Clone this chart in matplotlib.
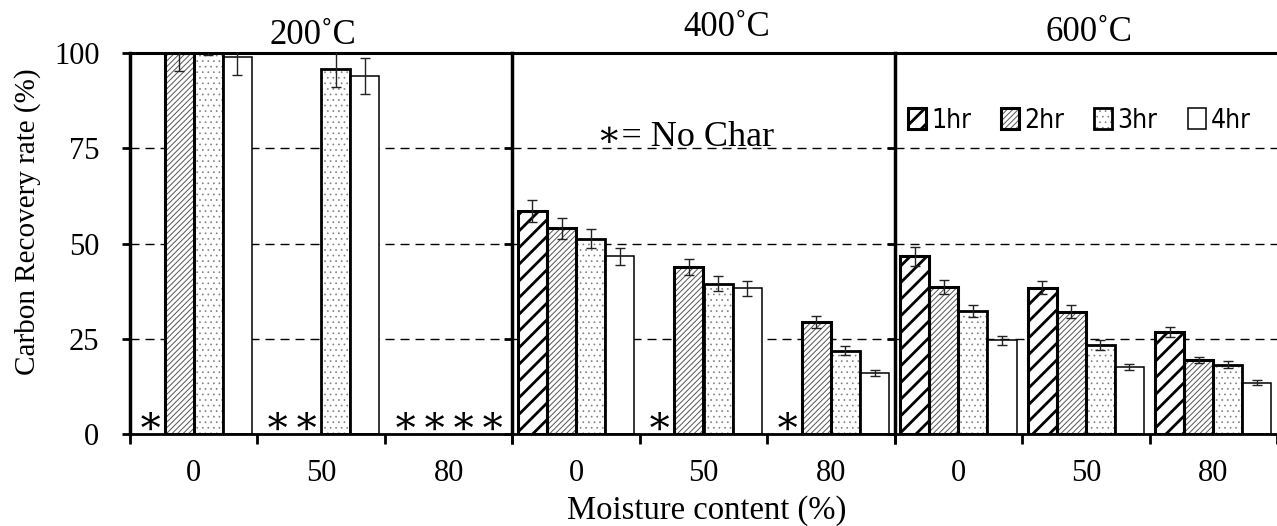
"""
Carbon recovery rate of char by moisture content, temperature and residence time.
Output: out.png
"""

import numpy as np
import matplotlib
matplotlib.use("Agg")
import matplotlib.pyplot as plt
from matplotlib.patches import Patch, Rectangle

nan = np.nan

TEMPS = ["200˚C", "400˚C", "600˚C"]
MOISTURE = ["0", "50", "80"]
DURATIONS = ["1hr", "2hr", "3hr", "4hr"]

# rows = moisture content, columns = 1hr..4hr; nan = no char
rate_200 = [[nan, 100.0, 100.0, 98.9],
            [nan, nan, 95.8, 94.0],
            [nan, nan, nan, nan]]
err_200 = [[0, 4.7, 0.5, 4.6],
           [0, 0, 4.6, 4.7],
           [0, 0, 0, 0]]

rate_400 = [[58.5, 54.0, 51.2, 46.6],
            [nan, 43.9, 39.5, 38.2],
            [nan, 29.4, 21.9, 16.0]]
err_400 = [[2.9, 2.7, 2.5, 2.2],
           [0, 2.1, 2.0, 1.9],
           [0, 1.6, 1.2, 0.8]]

rate_600 = [[46.6, 38.6, 32.2, 24.6],
            [38.4, 32.1, 23.3, 17.6],
            [26.8, 19.4, 18.2, 13.5]]
err_600 = [[2.4, 1.8, 1.6, 1.2],
           [1.7, 1.7, 1.3, 0.8],
           [1.3, 0.9, 1.0, 0.6]]

RATES = [rate_200, rate_400, rate_600]
ERRS = [err_200, err_400, err_600]

SERIF = ["Liberation Serif", "DejaVu Serif"]

STYLES = [
    dict(hatch="//", hcolor="black", hlw=2.0, elw=2.2),
    dict(hatch="//////", hcolor="#555555", hlw=0.7, elw=2.2),
    dict(hatch="...", hcolor="#808080", hlw=0.5, elw=2.0),
    dict(hatch=None, hcolor="black", hlw=0.5, elw=1.1),
]

BAR_W = 0.228
TITLE_X = [0.478, 0.56, 0.508]
TITLE_Y = [1.047, 1.066, 1.055]


def set_hatch_lw(patch, lw):
    if hasattr(patch, "set_hatch_linewidth"):
        patch.set_hatch_linewidth(lw)
    else:
        patch._hatch_linewidth = lw


def main():
    plt.rcParams["font.family"] = SERIF
    fig, axes = plt.subplots(1, 3, figsize=(12.77, 5.26), dpi=100, sharey=True)
    fig.subplots_adjust(left=130 / 1277, right=1.0, bottom=0.175, top=0.899, wspace=0)

    centers = np.arange(len(MOISTURE)) + 0.5

    for p, ax in enumerate(axes):
        rates = np.array(RATES[p], dtype=float)
        errs = np.array(ERRS[p], dtype=float)

        for d, st in enumerate(STYLES):
            x = centers + (d - 1.5) * BAR_W
            vals = rates[:, d]
            ok = ~np.isnan(vals)
            if st["hatch"]:
                with plt.rc_context({"hatch.linewidth": st["hlw"]}):
                    fills = ax.bar(x[ok], vals[ok], BAR_W, color="white",
                                   edgecolor=st["hcolor"], hatch=st["hatch"],
                                   linewidth=0, zorder=2)
                for b in fills:
                    set_hatch_lw(b, st["hlw"])
            else:
                ax.bar(x[ok], vals[ok], BAR_W, color="white", linewidth=0, zorder=2)
            ax.bar(x[ok], vals[ok], BAR_W, fill=False, edgecolor="black",
                   linewidth=st["elw"], zorder=3)
            ax.errorbar(x[ok], vals[ok], yerr=errs[ok, d], fmt="none",
                        ecolor="#222222", elinewidth=1.0, capsize=3.5,
                        capthick=1.0, zorder=4)
            for xi in x[~ok]:
                ax.text(xi, 2.6, "∗", ha="center", va="center",
                        fontsize=29, family=SERIF, zorder=5)

        ax.set_xlim(0, 3)
        ax.set_ylim(0, 100)
        ax.set_yticks([0, 25, 50, 75, 100])
        ax.yaxis.grid(True, color="black", linewidth=1.0,
                      linestyle=(0, (6.5, 4.3)))
        ax.set_axisbelow(True)

        ax.set_xticks([0, 1, 2, 3])
        ax.set_xticklabels([])
        ax.set_xticks(centers, minor=True)
        ax.set_xticklabels(MOISTURE, minor=True, fontsize=22)
        ax.tick_params(axis="x", which="major", direction="out",
                       length=7, width=2)
        ax.tick_params(axis="x", which="minor", length=0, pad=18)
        ax.tick_params(axis="y", direction="out", length=6, width=2,
                       labelsize=22, pad=16)
        if p > 0:
            ax.tick_params(axis="y", labelleft=False)

        ax.spines["right"].set_visible(False)
        ax.spines["top"].set_linewidth(2.2)
        ax.spines["left"].set_linewidth(2.5)
        ax.spines["bottom"].set_linewidth(2.0)

        ax.text(TITLE_X[p], TITLE_Y[p], TEMPS[p], transform=ax.transAxes,
                ha="center", va="center", fontsize=25)

    axes[1].text(1.36, 75.6, "∗= No Char", ha="center", va="baseline",
                 fontsize=26, family=SERIF)

    handles = []
    for st in STYLES:
        fill = Patch(facecolor="white", edgecolor=st["hcolor"],
                     hatch=st["hatch"], linewidth=0)
        set_hatch_lw(fill, st["hlw"])
        edge = Patch(fill=False, edgecolor="black", linewidth=st["elw"])
        handles.append((fill, edge))
    with plt.rc_context({"hatch.linewidth": 0.7}):
        leg = axes[2].legend(handles, DURATIONS, loc="upper left",
                             bbox_to_anchor=(0.035, 0.857), ncol=4, frameon=False,
                             prop=dict(family="DejaVu Sans", stretch="condensed",
                                       size=19),
                             handlelength=0.68, handleheight=0.83,
                             handletextpad=0.2, columnspacing=1.14,
                             borderaxespad=0, borderpad=0)
    hatch_lw = {st["hatch"]: st["hlw"] for st in STYLES if st["hatch"]}
    for r in leg.findobj(Rectangle):
        h = r.get_hatch()
        if h in hatch_lw:
            set_hatch_lw(r, hatch_lw[h])

    fig.text(28 / 1277, 0.578, "Carbon Recovery rate (%)", rotation=90,
             ha="center", va="center", fontsize=21)
    fig.text(707 / 1277, 0.030, "Moisture content (%)", ha="center",
             va="center", fontsize=23.5)

    fig.savefig("out.png", dpi=100)
    plt.close(fig)


if __name__ == "__main__":
    main()
